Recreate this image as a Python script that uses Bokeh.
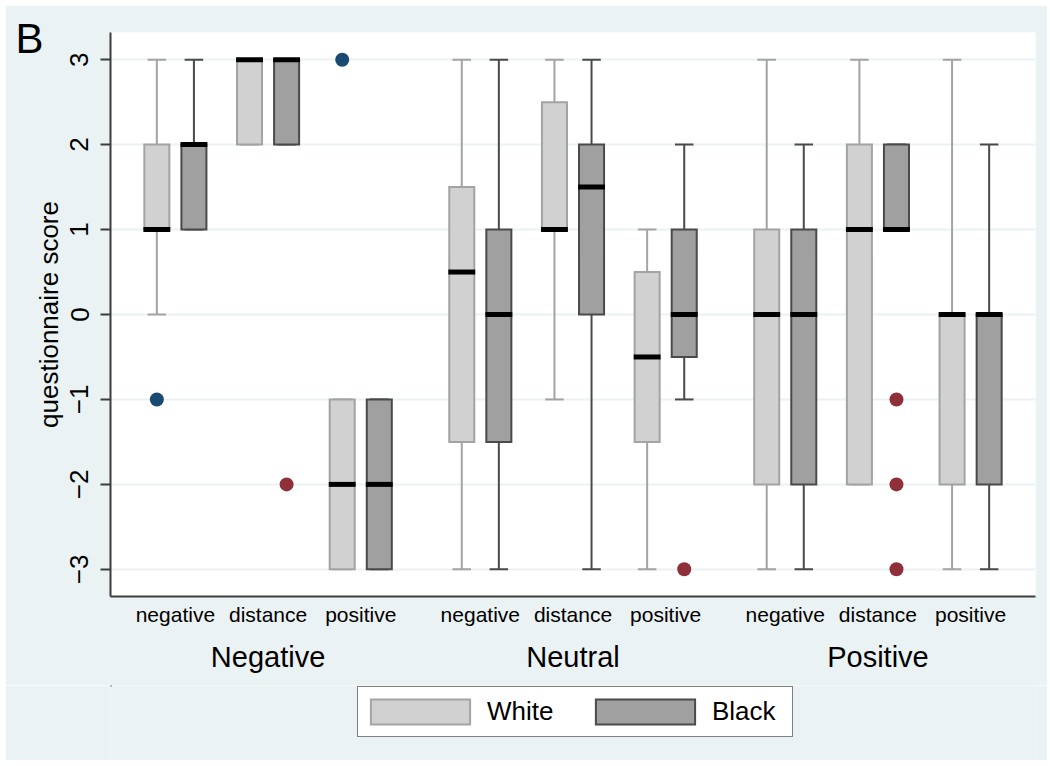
from bokeh.plotting import figure
from bokeh.layouts import column
from bokeh.models import (ColumnDataSource, FactorRange, Range1d, FixedTicker,
                          Legend, LegendItem, Title, CategoricalAxis)
from bokeh.transform import dodge
from bokeh.embed import file_html
from bokeh.resources import INLINE

# ---------------- data ----------------
groups = ["Negative", "Neutral", "Positive"]
subs = ["negative", "distance", "positive"]
races = ["White", "Black"]
y_ticks = [-3, -2, -1, 0, 1, 2, 3]
y_tick_labels = ["\u22123", "\u22122", "\u22121", "0", "1", "2", "3"]

# order: Negative(neg, dist, pos), Neutral(...), Positive(...)
white_q1 = [1, 2, -3, -1.5, 1, -1.5, -2, -2, -2]
white_med = [1, 3, -2, 0.5, 1, -0.5, 0, 1, 0]
white_q3 = [2, 3, -1, 1.5, 2.5, 0.5, 1, 2, 0]
white_lo = [0, 2, -3, -3, -1, -3, -3, -2, -3]
white_hi = [3, 3, -1, 3, 3, 1, 3, 3, 3]

black_q1 = [1, 2, -3, -1.5, 0, -0.5, -2, 1, -2]
black_med = [2, 3, -2, 0, 1.5, 0, 0, 1, 0]
black_q3 = [2, 3, -1, 1, 2, 1, 1, 2, 0]
black_lo = [1, 2, -3, -3, -3, -1, -3, 1, -3]
black_hi = [3, 3, -1, 3, 3, 2, 2, 2, 2]

white_out_group = ["Negative", "Negative"]
white_out_sub = ["negative", "positive"]
white_out_val = [-1, 3]
black_out_group = ["Negative", "Neutral", "Positive", "Positive", "Positive"]
black_out_sub = ["distance", "positive", "distance", "distance", "distance"]
black_out_val = [-2, -3, -1, -2, -3]

# ---------------- styling ----------------
FONT = "Liberation Sans"
BG = "#EAF2F3"
AXIS = "#3C3C3C"
W_FILL, W_LINE = "#D0D1D0", "#A3A3A3"
B_FILL, B_LINE = "#A0A0A0", "#4A4A4A"
BLUE, RED = "#1A4A72", "#8E2F39"

factors = [(g, s) for g in groups for s in subs]
xr = FactorRange(factors=factors, group_padding=0.29, range_padding=0.2,
                 range_padding_units="absolute")

p = figure(x_range=xr, y_range=Range1d(-3.32, 3.32), width=1042, height=680,
           output_backend="svg", toolbar_location=None,
           min_border_left=105, min_border_right=12, min_border_top=27,
           min_border_bottom=89, margin=(5, 3, 0, 5))
p.border_fill_color = BG
p.background_fill_color = "white"
p.outline_line_color = None

p.xgrid.grid_line_color = None
p.ygrid.grid_line_color = BG
p.ygrid.grid_line_width = 2

# y axis
p.yaxis.ticker = FixedTicker(ticks=y_ticks)
p.yaxis.major_label_overrides = {t: l for t, l in zip(y_ticks, y_tick_labels)}
p.yaxis.major_label_orientation = "vertical"
p.yaxis.major_label_text_font = FONT
p.yaxis.major_label_text_font_size = "26px"
p.yaxis.major_label_text_color = "black"
p.yaxis.major_label_standoff = 12
p.yaxis.major_tick_out = 10
p.yaxis.major_tick_in = 0
p.yaxis.major_tick_line_color = AXIS
p.yaxis.major_tick_line_width = 2
p.yaxis.minor_tick_line_color = None
p.yaxis.axis_line_color = AXIS
p.yaxis.axis_line_width = 2
p.yaxis.axis_label = "questionnaire score"
p.yaxis.axis_label_text_font = FONT
p.yaxis.axis_label_text_font_size = "26px"
p.yaxis.axis_label_text_font_style = "normal"
p.yaxis.axis_label_text_color = "black"
p.yaxis.axis_label_standoff = 4

# x axis: inner axis shows the sub-category labels
xa = p.xaxis[0]
xa.axis_line_color = AXIS
xa.axis_line_width = 2
xa.major_tick_line_color = None
xa.major_tick_out = 0
xa.major_tick_in = 0
xa.minor_tick_line_color = None
xa.major_label_text_font = FONT
xa.major_label_text_font_size = "21px"
xa.major_label_text_color = "black"
xa.major_label_standoff = 6
xa.group_text_font_size = "1px"
xa.group_text_color = None
xa.separator_line_color = None

# outer axis shows the group labels
xg = CategoricalAxis(axis_line_color=None, major_tick_line_color=None,
                     major_tick_out=0, major_tick_in=0, minor_tick_line_color=None,
                     major_label_text_font_size="1px", major_label_text_color=None,
                     major_label_standoff=12, separator_line_color=None,
                     group_text_font=FONT, group_text_font_size="29px",
                     group_text_font_style="normal", group_text_color="black")
p.add_layout(xg, "below")

# ---------------- boxes ----------------
def draw(q1, med, q3, lo, hi, off, fill, line):
    src = ColumnDataSource(dict(x=factors, q1=q1, med=med, q3=q3, lo=lo, hi=hi))
    xx = dodge("x", off, range=xr)
    p.segment(x0=xx, y0="q3", x1=xx, y1="hi", line_color=line, line_width=2, source=src)
    p.segment(x0=xx, y0="lo", x1=xx, y1="q1", line_color=line, line_width=2, source=src)
    p.rect(x=xx, y="hi", width=0.2, height=2, height_units="screen",
           fill_color=line, line_color=None, source=src)
    p.rect(x=xx, y="lo", width=0.2, height=2, height_units="screen",
           fill_color=line, line_color=None, source=src)
    p.vbar(x=xx, bottom="q1", top="q3", width=0.27, fill_color=fill,
           line_color=line, line_width=2, line_join="miter", source=src)
    p.rect(x=xx, y="med", width=0.29, height=5, height_units="screen",
           fill_color="black", line_color=None, source=src)

draw(white_q1, white_med, white_q3, white_lo, white_hi, -0.2, W_FILL, W_LINE)
draw(black_q1, black_med, black_q3, black_lo, black_hi, 0.2, B_FILL, B_LINE)

wo = ColumnDataSource(dict(x=list(zip(white_out_group, white_out_sub)), y=white_out_val))
bo = ColumnDataSource(dict(x=list(zip(black_out_group, black_out_sub)), y=black_out_val))
p.scatter(x=dodge("x", -0.2, range=xr), y="y", size=14, fill_color=BLUE,
          line_color=None, source=wo)
p.scatter(x=dodge("x", 0.2, range=xr), y="y", size=14, fill_color=RED,
          line_color=None, source=bo)

# panel letter
p.add_layout(Title(text="B", text_font=FONT, text_font_size="42px",
                   text_font_style="normal", text_color="black",
                   align="left", offset=-95, standoff=-58,
                   vertical_align="bottom"), "above")

# ---------------- legend strip (same background, below the axis) ----------------
pl = figure(width=1042, height=75, x_range=Range1d(0, 1), y_range=Range1d(0, 1),
            output_backend="svg", toolbar_location=None,
            x_axis_location=None, y_axis_location=None, min_border=0,
            margin=(0, 3, 6, 5))
pl.border_fill_color = BG
pl.background_fill_color = BG
pl.outline_line_color = None
pl.grid.grid_line_color = None
# legend swatch renderers (kept outside the visible strip)
kw = dict(x=[-5], bottom=[10], top=[11], width=0.1, line_width=2, line_join="miter")
rw = pl.vbar(fill_color=W_FILL, line_color=W_LINE, **kw)
rb = pl.vbar(fill_color=B_FILL, line_color=B_LINE, **kw)

legend = Legend(items=[LegendItem(label=races[0], renderers=[rw]),
                       LegendItem(label=races[1], renderers=[rb])],
                orientation="horizontal", location=(247, 23),
                glyph_width=124, glyph_height=31, label_standoff=5,
                label_width=80, label_height=49, spacing=16, padding=0,
                margin=0,
                border_line_color="black", border_line_width=1.5,
                background_fill_color="white", background_fill_alpha=1,
                label_text_font=FONT, label_text_font_size="26px",
                label_text_color="black")
pl.add_layout(legend, "center")

open("out.html", "w").write(file_html(column(p, pl, spacing=0), INLINE))
